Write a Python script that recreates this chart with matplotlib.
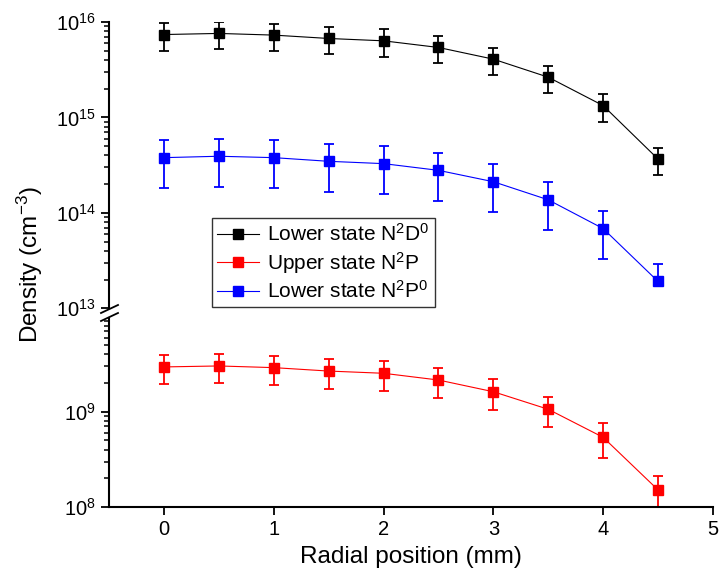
import numpy as np
import matplotlib
matplotlib.use("Agg")
import matplotlib.pyplot as plt
from matplotlib.lines import Line2D
from matplotlib.ticker import LogLocator

plt.rcParams['font.family'] = ['Liberation Sans', 'DejaVu Sans']
plt.rcParams['mathtext.default'] = 'regular'

# posição radial (mm)
x = [0, 0.5, 1, 1.5, 2, 2.5, 3, 3.5, 4, 4.5]

# densidades (cm^-3)
lower_N2D0 = [7.39e15, 7.59e15, 7.29e15, 6.72e15, 6.35e15, 5.41e15, 4.08e15, 2.64e15, 1.33e15, 3.66e14]
lower_N2P0 = [3.79e14, 3.92e14, 3.79e14, 3.47e14, 3.28e14, 2.79e14, 2.12e14, 1.37e14, 6.84e13, 1.91e13]
upper_N2P = [2.95e9, 3.02e9, 2.90e9, 2.67e9, 2.53e9, 2.15e9, 1.62e9, 1.06e9, 5.38e8, 1.51e8]

# erros relativos (baixo, cima)
err_N2D0_lo = [0.32] * 10
err_N2D0_hi = [0.32] * 10
err_N2P0_lo = [0.52] * 9 + [0.0]
err_N2P0_hi = [0.52] * 10
err_N2P_lo = [0.34, 0.34, 0.34, 0.35, 0.35, 0.35, 0.35, 0.35, 0.40, 0.40]
err_N2P_hi = [0.34, 0.34, 0.34, 0.35, 0.35, 0.35, 0.35, 0.35, 0.40, 0.40]

labels = ["Lower state N$^2$D$^0$", "Upper state N$^2$P", "Lower state N$^2$P$^0$"]
colors = ["black", "red", "blue"]

W, H = 721, 575
fig = plt.figure(figsize=(W / 100, H / 100), dpi=100)

left = 109 / W
width = (713 - 109) / W
ax_top = fig.add_axes([left, 1 - 308.3 / H, width, (308.3 - 22) / H])
ax_bot = fig.add_axes([left, 1 - 507 / H, width, (507 - 318) / H])


def serie(ax, y, lo, hi, c):
    y = np.array(y)
    yerr = [np.array(lo) * y, np.array(hi) * y]
    ax.errorbar(x, y, yerr=yerr, fmt='s-', color=c, ms=7, lw=0.8,
                elinewidth=1.3, capsize=3.5, capthick=1.3)


serie(ax_top, lower_N2D0, err_N2D0_lo, err_N2D0_hi, colors[0])
serie(ax_top, lower_N2P0, err_N2P0_lo, err_N2P0_hi, colors[2])
serie(ax_bot, upper_N2P, err_N2P_lo, err_N2P_hi, colors[1])

for ax in (ax_top, ax_bot):
    ax.set_yscale('log')
    ax.set_xlim(-0.5, 5)
    for s in ('top', 'right'):
        ax.spines[s].set_visible(False)
    ax.spines['left'].set_linewidth(1.5)
    ax.spines['bottom'].set_linewidth(1.5)
    ax.yaxis.set_minor_locator(LogLocator(base=10, subs=np.arange(2, 10)))
    ax.tick_params(axis='both', which='major', direction='out', length=6, width=1.3,
                   labelsize=14.5, colors='black')
    ax.tick_params(axis='y', which='minor', direction='out', length=3.5, width=1.1)

ax_top.set_ylim(1e13, 1e16)
ax_bot.set_ylim(1e8, 10 ** (8 + (507 - 318) / 95.3))
ax_top.spines['bottom'].set_visible(False)
ax_top.tick_params(axis='x', which='both', bottom=False, labelbottom=False)
ax_top.set_yticks([1e13, 1e14, 1e15, 1e16])
ax_bot.set_yticks([1e8, 1e9])
ax_bot.set_xticks([0, 1, 2, 3, 4, 5])
ax_bot.set_xlabel("Radial position (mm)", fontsize=17.5, labelpad=5)

fig.text(30 / W, 1 - 265 / H, "Density (cm$^{-3}$)", rotation=90, fontsize=17.5,
         ha='center', va='center')

# marcas de quebra do eixo
for yp in (309, 317):
    fig.add_artist(Line2D([101 / W, 118 / W], [1 - (yp + 4) / H, 1 - (yp - 4) / H],
                          color='black', lw=1.3, transform=fig.transFigure))

handles = [Line2D([], [], color=c, marker='s', ms=7, lw=0.8) for c in colors]
leg = ax_top.legend(handles, labels, loc='upper left', bbox_to_anchor=(0.17, 0.315),
                    fontsize=15, frameon=True, fancybox=False, edgecolor='black',
                    handlelength=2.0, handletextpad=0.4, borderpad=0.25, labelspacing=0.22,
                    borderaxespad=0)
leg.get_frame().set_linewidth(1.0)

fig.savefig("out.png", dpi=100)
